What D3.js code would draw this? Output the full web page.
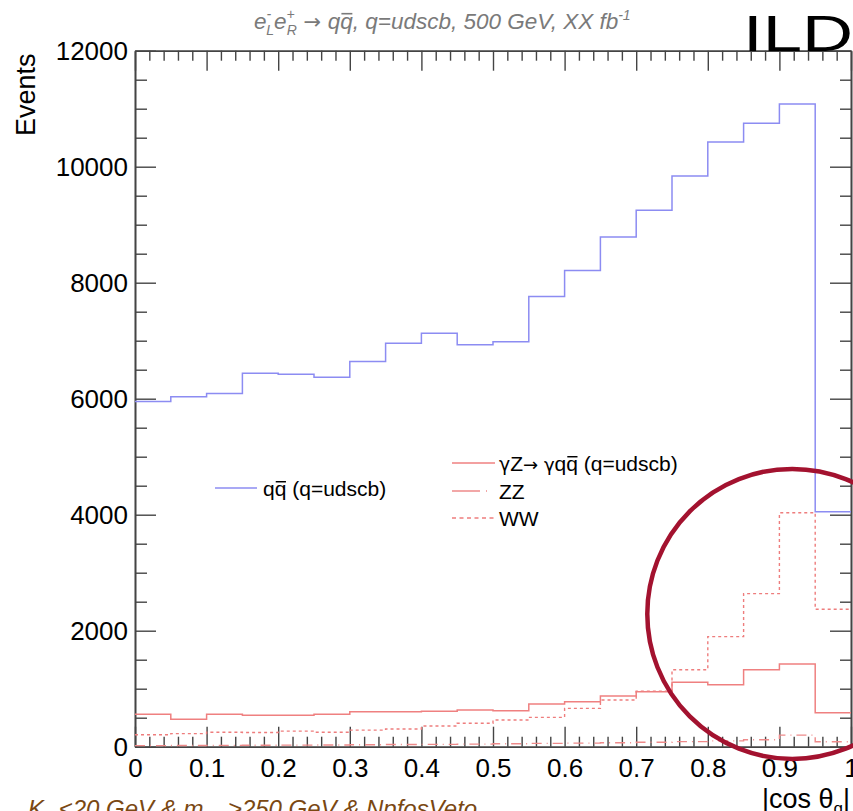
<!DOCTYPE html>
<html>
<head>
<meta charset="utf-8">
<script src="https://cdn.jsdelivr.net/npm/d3@7"></script>
<style>
  html, body { margin: 0; padding: 0; background: #fff; }
  svg { display: block; }
  text { font-family: "Liberation Sans", Arial, Helvetica, sans-serif; }
</style>
</head>
<body>
<svg id="chart" width="853" height="811"></svg>
<script>
// |cos theta_q| bins (lower edges), width 0.05
const binLow = [0.00, 0.05, 0.10, 0.15, 0.20, 0.25, 0.30, 0.35, 0.40, 0.45,
                0.50, 0.55, 0.60, 0.65, 0.70, 0.75, 0.80, 0.85, 0.90, 0.95];
const binHigh = 1.0;

// Events per bin
const qqbar  = [5950, 6035, 6090, 6440, 6420, 6370, 6640, 6955, 7130, 6930,
                6980, 7760, 8210, 8790, 9250, 9840, 10425, 10750, 11080, 4050];
const gammaZ = [560, 473, 558, 541, 541, 560, 603, 603, 612, 633,
                621, 736, 776, 874, 948, 1110, 1068, 1328, 1426, 585];
const zz     = [18, 20, 22, 25, 28, 30, 34, 38, 40, 45,
                50, 58, 62, 68, 78, 88, 100, 120, 200, 85];
const ww     = [205, 225, 250, 245, 268, 250, 285, 305, 358, 405,
                460, 506, 661, 805, 955, 1328, 1897, 2640, 4034, 2369];

const xTicksMajor = [0, 0.1, 0.2, 0.3, 0.4, 0.5, 0.6, 0.7, 0.8, 0.9, 1];
const xTickLabels = ["0", "0.1", "0.2", "0.3", "0.4", "0.5", "0.6", "0.7", "0.8", "0.9", "1"];
const yTicksMajor = [0, 2000, 4000, 6000, 8000, 10000, 12000];
const yTickLabels = ["0", "2000", "4000", "6000", "8000", "10000", "12000"];

const svg = d3.select("#chart");
const x = d3.scaleLinear().domain([0, 1]).range([135, 851]);
const y = d3.scaleLinear().domain([0, 12000]).range([746.7, 50.7]);

const axisColor = "#444";
const xMinor = d3.range(0, 50).map(i => i / 50).filter(v => Math.abs(v * 10 - Math.round(v * 10)) > 1e-6);
const yMinor = d3.range(0, 24).map(i => i * 500).filter(v => v % 2000 !== 0);
const symbolFont = "'DejaVu Sans', sans-serif";

function styleAxis(g) {
  g.selectAll("path, line").attr("stroke", axisColor).attr("stroke-width", 1.4);
  g.select(".domain").attr("stroke-width", 1.6);
}

// bottom axis
svg.append("g").attr("transform", `translate(0,${y(0)})`)
  .call(d3.axisBottom(x).tickValues(xTicksMajor).tickSizeInner(-20).tickSizeOuter(0)
        .tickPadding(12).tickFormat((d, i) => xTickLabels[i]))
  .call(styleAxis)
  .call(g => g.selectAll("text").attr("font-size", 26).attr("fill", "#000")
        .attr("font-family", "'Liberation Sans', Arial, sans-serif"));
svg.append("g").attr("transform", `translate(0,${y(0)})`)
  .call(d3.axisBottom(x).tickValues(xMinor).tickSizeInner(-10).tickSizeOuter(0).tickFormat(""))
  .call(styleAxis);
// top axis
svg.append("g").attr("transform", `translate(0,${y(12000)})`)
  .call(d3.axisTop(x).tickValues(xTicksMajor).tickSizeInner(-20).tickSizeOuter(0).tickFormat(""))
  .call(styleAxis);
svg.append("g").attr("transform", `translate(0,${y(12000)})`)
  .call(d3.axisTop(x).tickValues(xMinor).tickSizeInner(-10).tickSizeOuter(0).tickFormat(""))
  .call(styleAxis);
// left axis
svg.append("g").attr("transform", `translate(${x(0)},0)`)
  .call(d3.axisLeft(y).tickValues(yTicksMajor).tickSizeInner(-21).tickSizeOuter(0)
        .tickPadding(7).tickFormat((d, i) => yTickLabels[i]))
  .call(styleAxis)
  .call(g => g.selectAll("text").attr("font-size", 26).attr("fill", "#000")
        .attr("font-family", "'Liberation Sans', Arial, sans-serif"));
svg.append("g").attr("transform", `translate(${x(0)},0)`)
  .call(d3.axisLeft(y).tickValues(yMinor).tickSizeInner(-12).tickSizeOuter(0).tickFormat(""))
  .call(styleAxis);
// right axis
svg.append("g").attr("transform", `translate(${x(1)},0)`)
  .call(d3.axisRight(y).tickValues(yTicksMajor).tickSizeInner(-21).tickSizeOuter(0).tickFormat(""))
  .call(styleAxis);
svg.append("g").attr("transform", `translate(${x(1)},0)`)
  .call(d3.axisRight(y).tickValues(yMinor).tickSizeInner(-11).tickSizeOuter(0).tickFormat(""))
  .call(styleAxis);

// step histograms
const stepLine = d3.line().x(d => x(d[0])).y(d => y(d[1])).curve(d3.curveStepAfter);
function histPoints(vals) {
  const pts = vals.map((v, i) => [binLow[i], v]);
  pts.push([binHigh, vals[vals.length - 1]]);
  return pts;
}
const series = [
  { vals: ww,     color: "#ee7d7d", dash: "3,3",       width: 1.4 },
  { vals: zz,     color: "#ee8a8a", dash: "10,5,1,5",  width: 1.4 },
  { vals: gammaZ, color: "#ef8080", dash: null,        width: 1.5 },
  { vals: qqbar,  color: "#8c8cf2", dash: null,        width: 1.5 }
];
series.forEach(s => {
  svg.append("path").datum(histPoints(s.vals))
    .attr("d", stepLine).attr("fill", "none")
    .attr("stroke", s.color).attr("stroke-width", s.width)
    .attr("stroke-dasharray", s.dash);
});

// draws a short bar over every tspan marked as an antiquark
function drawBars(textSel, color) {
  textSel.selectAll("tspan.bar").each(function () {
    const node = this;
    const fs = parseFloat(getComputedStyle(node).fontSize);
    const start = node.getStartPositionOfChar(0);
    const end = node.getEndPositionOfChar(node.getNumberOfChars() - 1);
    const yy = start.y - 0.68 * fs;
    svg.append("line")
      .attr("x1", start.x + 0.05 * fs).attr("x2", end.x - 0.02 * fs)
      .attr("y1", yy).attr("y2", yy)
      .attr("stroke", color).attr("stroke-width", Math.max(1, fs / 14));
  });
}

// legend
const legend = svg.append("g").attr("font-size", 21).attr("fill", "#000");
function legendLine(x1, x2, yy, color, dash) {
  legend.append("line").attr("x1", x1).attr("x2", x2).attr("y1", yy).attr("y2", yy)
    .attr("stroke", color).attr("stroke-width", 1.6).attr("stroke-dasharray", dash);
}
legendLine(215, 257, 488, "#8c8cf2", null);
const t1 = legend.append("text").attr("x", 263).attr("y", 496);
t1.append("tspan").text("q");
t1.append("tspan").attr("class", "bar").text("q");
t1.append("tspan").text(" (q=udscb)");

legendLine(452, 495, 463, "#ef8080", null);
const t2 = legend.append("text").attr("x", 499).attr("y", 471);
t2.append("tspan").attr("font-family", symbolFont).attr("font-size", 19).text("\u03B3");
t2.append("tspan").text("Z");
t2.append("tspan").attr("font-family", symbolFont).attr("font-size", 18).text("\u2192 \u03B3");
t2.append("tspan").text("q");
t2.append("tspan").attr("class", "bar").text("q");
t2.append("tspan").text(" (q=udscb)");

legendLine(452, 495, 491, "#ee8a8a", "28,6,1,12");
legend.append("text").attr("x", 499).attr("y", 499).text("ZZ");

legendLine(452, 495, 518, "#ee7d7d", "4,3.5");
legend.append("text").attr("x", 499).attr("y", 526).text("WW");

// title
const title = svg.append("text").attr("x", 254).attr("y", 29)
  .attr("font-size", 22.5).attr("font-style", "italic").attr("fill", "#7a7a7a");
title.append("tspan").text("e");
title.append("tspan").attr("font-size", 14).attr("dy", -10).text("-");
title.append("tspan").attr("font-size", 14).attr("dx", -5).attr("dy", 16).text("L");
title.append("tspan").attr("dy", -6).text("e");
title.append("tspan").attr("font-size", 14).attr("dy", -10).text("+");
title.append("tspan").attr("font-size", 14).attr("dx", -8).attr("dy", 16).text("R");
title.append("tspan").attr("dy", -6).attr("font-family", symbolFont).attr("font-style", "normal")
  .attr("font-size", 21).text(" \u2192 ");
title.append("tspan").text("q");
title.append("tspan").attr("class", "bar").text("q");
title.append("tspan").text(", q=udscb, 500 GeV, XX fb");
title.append("tspan").attr("font-size", 14).attr("dy", -9).text("-1");

// ILD label
svg.append("text").attr("x", 743).attr("y", 51)
  .attr("font-size", 50).attr("fill", "#000")
  .attr("textLength", 110).attr("lengthAdjust", "spacingAndGlyphs")
  .text("ILD");

// axis titles
svg.append("text").attr("transform", "translate(35,136) rotate(-90)")
  .attr("font-size", 27).attr("fill", "#000").text("Events");

const xt = svg.append("text").attr("x", 850).attr("y", 808).attr("text-anchor", "end")
  .attr("font-size", 27).attr("fill", "#000");
xt.append("tspan").text("|cos \u03B8");
xt.append("tspan").attr("font-size", 17).attr("dy", 6).text("q");
xt.append("tspan").attr("dy", -6).text("|");

// selection cuts
const cuts = svg.append("text").attr("x", 28).attr("y", 817)
  .attr("font-size", 24).attr("font-style", "italic").attr("fill", "#7a4813");
cuts.append("tspan").text("K");
cuts.append("tspan").attr("font-size", 16).attr("dy", 6).text("\u03B3");
cuts.append("tspan").attr("dy", -6).text(" <20 GeV & m");
cuts.append("tspan").attr("font-size", 16).attr("dy", 6).text("qq");
cuts.append("tspan").attr("dy", -6).text(" >250 GeV & NpfosVeto");

drawBars(t1, "#000");
drawBars(t2, "#000");
drawBars(title, "#7a7a7a");

// highlight circle around the forward region
svg.append("circle")
  .attr("cx", x(0.918)).attr("cy", y(2290)).attr("r", 145)
  .attr("fill", "none").attr("stroke", "#a3122f").attr("stroke-width", 4.5);
</script>
</body>
</html>
